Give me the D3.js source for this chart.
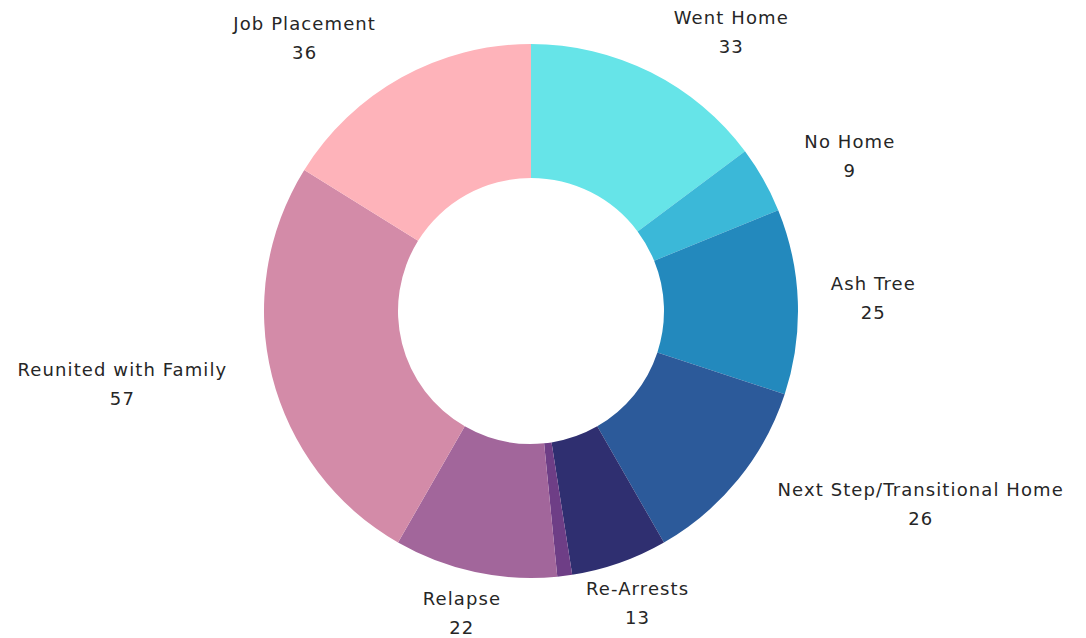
<!DOCTYPE html>
<html>
<head>
<meta charset="utf-8">
<script src="https://cdn.jsdelivr.net/npm/d3@7"></script>
<style>
  html, body { margin: 0; padding: 0; background: #fff; }
</style>
</head>
<body>
<div id="donut"></div>
<script>
// slice data, clockwise from 12 o'clock
const categories = ["Went Home", "No Home", "Ash Tree", "Next Step/Transitional Home", "Re-Arrests", "Other", "Relapse", "Reunited with Family", "Job Placement"];
const values = [33, 9, 25, 26, 13, 2, 22, 57, 36];
const showLabel = [true, true, true, true, true, false, true, true, true];
const sliceColors = ["#66e4e8", "#3bb8d8", "#2389bd", "#2c5a9a", "#2f2f70", "#6e3e86", "#a2669b", "#d38ba8", "#feb3ba"];

// small label adjustments (px) on top of the computed placement
const labelNudge = [[40, 11], [18, 5], [0, -1], [46, -12], [-10, -14], [0, 0], [2, -15], [-16, -6], [-46, 11]];

const width = 1086, height = 638;
const cx = 531, cy = 311;
const outerR = 267, innerR = 133;

const svg = d3.select("#donut")
  .append("svg")
  .attr("width", width)
  .attr("height", height);

const g = svg.append("g")
  .attr("transform", "translate(" + cx + "," + cy + ")");

const data = categories.map((c, i) => ({ name: c, value: values[i], i: i }));

const pie = d3.pie()
  .value(d => d.value)
  .sort(null);

const arc = d3.arc()
  .innerRadius(innerR)
  .outerRadius(outerR);

const arcs = pie(data);

g.selectAll("path")
  .data(arcs)
  .join("path")
  .attr("d", arc)
  .attr("fill", d => sliceColors[d.data.i]);

// labels outside the ring
const labelR = 300;
const lineH = 29;
const labels = g.append("g")
  .style("font-family", "'DejaVu Sans', sans-serif")
  .style("font-size", "18px")
  .style("letter-spacing", "1.1px")
  .attr("fill", "#262626");

arcs.filter(d => showLabel[d.data.i]).forEach(d => {
  const mid = (d.startAngle + d.endAngle) / 2;
  const t = labels.append("text").attr("text-anchor", "middle");
  t.append("tspan").text(d.data.name);
  const w = t.node().getComputedTextLength();
  const s = Math.sin(mid), c = -Math.cos(mid);
  const nx = labelNudge[d.data.i][0], ny = labelNudge[d.data.i][1];
  const x = labelR * s + (w / 2) * s + nx;
  const y = labelR * c + (lineH / 2 + 10) * c + ny;
  t.select("tspan").attr("x", x).attr("y", y - lineH / 2).attr("dy", "0.35em");
  t.append("tspan").attr("x", x).attr("y", y + lineH / 2).attr("dy", "0.35em").text(d.data.value);
});
</script>
</body>
</html>
